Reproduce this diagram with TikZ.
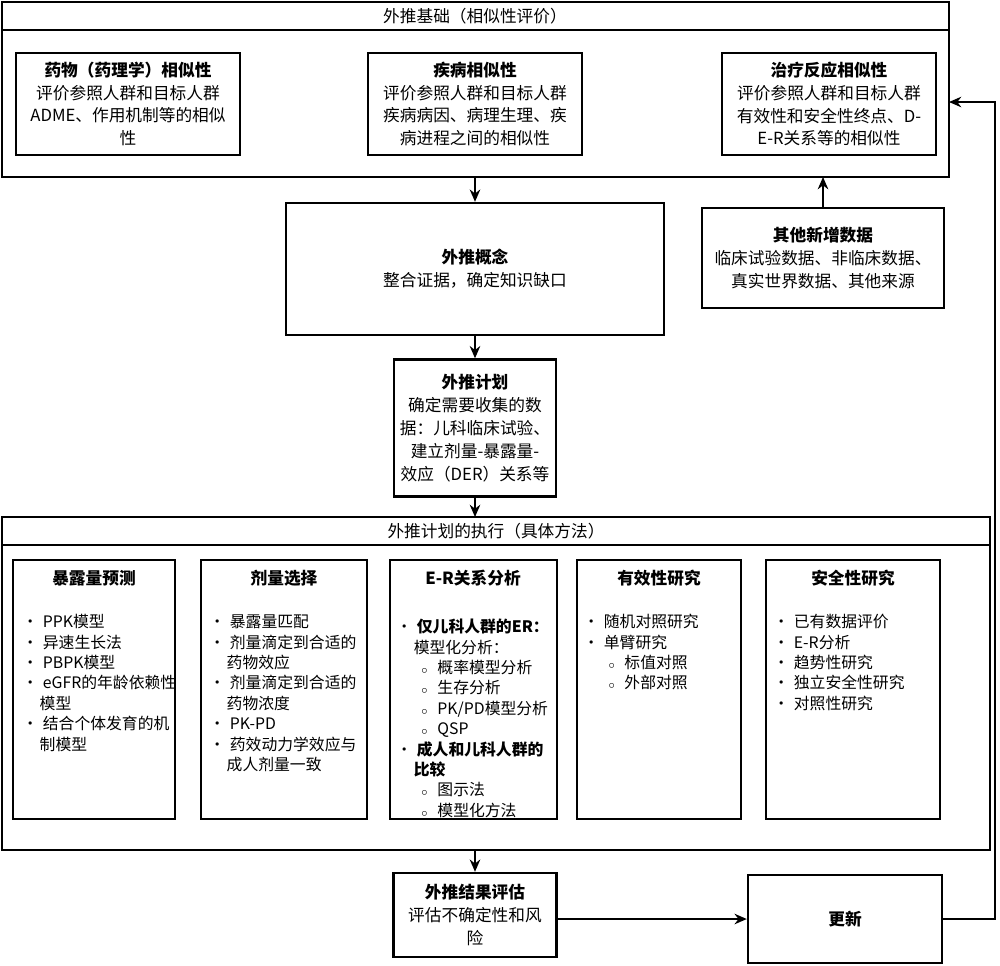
\documentclass[tikz,border=0pt]{standalone}
\usepackage{fontspec}
\setmainfont{Noto Sans CJK SC}
\XeTeXlinebreaklocale "zh"
\XeTeXlinebreakskip=0pt plus 1pt
\usetikzlibrary{arrows.meta}
\tikzset{box/.style={draw=black,line width=1.4pt},
  txt/.style={align=center,font=\fontsize{9.5}{13}\selectfont},
  col/.style={anchor=north west,text width=3.1cm,inner sep=0pt,align=left,font=\fontsize{9}{11.6}\selectfont},
  arr/.style={-{Stealth[length=7pt,width=6pt]},line width=1pt}}
\newenvironment{blist}{\begin{list}{\textbullet}{\leftmargin=1.1em\labelwidth=0.8em\labelsep=0.3em\itemsep=0pt\parsep=0pt\topsep=0pt\partopsep=0pt}}{\end{list}}
\newenvironment{slist}{\begin{list}{$\scriptstyle\circ$}{\leftmargin=1.5em\labelwidth=0.7em\labelsep=0.6em\itemsep=0pt\parsep=0pt\topsep=0pt\partopsep=0pt}}{\end{list}}
\begin{document}
\begin{tikzpicture}[x=0.02cm,y=-0.02cm]
        \useasboundingbox(0,0) rectangle (1000,965);
        %% Foundation
        \draw[box](2,2) rectangle (949,177);
        \draw[box](2,30)--(949,30);
        \coordinate (basisR) at (949,102);
        \node[txt] (basis) at (475,16) {外推基础（相似性评价）};
        \draw[box](16,53) rectangle (240,155);
        \node[txt] (drug) at (128,104) {\textbf{药物（药理学）相似性}\\评价参照人群和目标人群\\ADME、作用机制等的相似\\性};
        \draw[box](368,53) rectangle (582,155);
        \node[txt] (dis) at (475,104) {\textbf{疾病相似性}\\评价参照人群和目标人群\\疾病病因、病理生理、疾\\病进程之间的相似性};
        \draw[box](722,53) rectangle (936,155);
        \node[txt] (resp) at (829,104) {\textbf{治疗反应相似性}\\评价参照人群和目标人群\\有效性和安全性终点、D-\\E-R关系等的相似性};
        %% Concept and plan
        \node[box,txt,minimum width=7.56cm,minimum height=2.64cm] (concept) at (475,269) {\textbf{外推概念}\\整合证据，确定知识缺口};
        \node[box,txt,minimum width=4.84cm,minimum height=2cm] (other) at (823,258) {\textbf{其他新增数据}\\临床试验数据、非临床数据、\\真实世界数据、其他来源};
        \node[box,txt,minimum width=3.2cm,minimum height=2.74cm] (plan) at (475,428) {\textbf{外推计划}\\确定需要收集的数\\据：儿科临床试验、\\建立剂量-暴露量-\\效应（DER）关系等};
        %% Execution
        \draw[box](2,517) rectangle (990,850);
        \draw[box](2,545)--(990,545);
        \node[txt] (exec) at (496,531) {外推计划的执行（具体方法）};
        \foreach \x/\w in {13/162,201/166,390/167,577/164,766/174}
        \draw[box](\x,560) rectangle (\x+\w,819);
        \node[txt] at (94,578) {\textbf{暴露量预测}};
        \node[txt] at (284,578) {\textbf{剂量选择}};
        \node[txt] at (473,578) {\textbf{E-R关系分析}};
        \node[txt] at (659,578) {\textbf{有效性研究}};
        \node[txt] at (853,578) {\textbf{安全性研究}};
        \node[col] (expo) at (22,607) {\begin{blist}\item PPK模型\item 异速生长法\item PBPK模型\item eGFR的年龄依赖性模型\item 结合个体发育的机制模型\end{blist}};
        \node[col] (dose) at (209,607) {\begin{blist}\item 暴露量匹配\item 剂量滴定到合适的药物效应\item 剂量滴定到合适的药物浓度\item PK-PD\item 药效动力学效应与成人剂量一致\end{blist}};
        \node[col,text width=3.2cm] (er) at (396,612) {\begin{blist}\item \mbox{\textbf{仅儿科人群的ER：}}\newline 模型化分析：\begin{slist}\item 概率模型分析\item 生存分析\item PK/PD模型分析\item QSP\end{slist}\item \textbf{成人和儿科人群的比较}\begin{slist}\item 图示法\item 模型化方法\end{slist}\end{blist}};
        \node[col] (eff) at (583,607) {\begin{blist}\item 随机对照研究\item 单臂研究\begin{slist}\item 标值对照\item 外部对照\end{slist}\end{blist}};
        \node[col] (safe) at (773,607) {\begin{blist}\item 已有数据评价\item E-R分析\item 趋势性研究\item 独立安全性研究\item 对照性研究\end{blist}};
        %% Evaluation and update
        \node[box,txt,minimum width=3.26cm,minimum height=1.68cm] (eval) at (475,915) {\textbf{外推结果评估}\\评估不确定性和风\\险};
        \node[box,txt,minimum width=3.88cm,minimum height=1.76cm] (upd) at (845,919) {\textbf{更新}};
        \coordinate (basisB) at (475,177);
        \coordinate (basisB2) at (823,177);
        \coordinate (execT) at (475,517);
        \coordinate (execB) at (475,850);
        \coordinate (corner) at (995,919);
        %% connectors
        \draw[arr](basisB)--(concept);
        \draw[arr](concept)--(plan);
        \draw[arr](plan)--(execT);
        \draw[arr](execB)--(eval);
        \draw[arr](other)--(basisB2);
        \draw[arr](eval.east|-upd)--(upd);
        \draw[arr](upd)--(corner)|-(basisR);
\end{tikzpicture}
\end{document}
